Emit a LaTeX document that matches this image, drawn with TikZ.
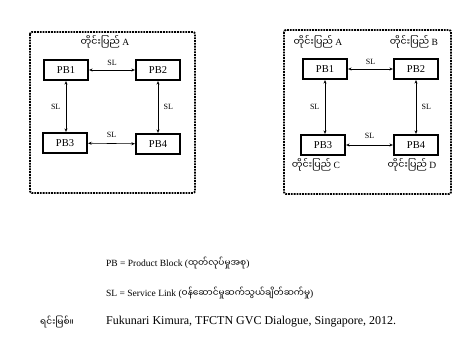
\documentclass[tikz,border=0pt]{standalone}
\usepackage{fontspec}
\setmainfont{Liberation Serif}
\newfontfamily\mya[Script=Myanmar]{Noto Sans Myanmar UI}
\usetikzlibrary{arrows.meta}
\begin{document}
\begin{tikzpicture}[x=1pt,y=-1pt,
  pb/.style={draw, line width=2.2pt, minimum width=44pt, minimum height=20pt, inner sep=0pt, font=\fontsize{10.5}{12}\selectfont},
  link/.style={{Stealth[length=3.5pt,width=3pt]}-{Stealth[length=3.5pt,width=3pt]}, line width=0.6pt},
  sl/.style={font=\fontsize{8}{9}\selectfont},
  ctry/.style={font=\mya\fontsize{9.5}{10}\selectfont, inner sep=0pt},
  region/.style={draw, densely dotted, line width=1.8pt, rounded corners=2pt},
  leg/.style={font=\fontsize{9.5}{12}\selectfont, anchor=west, inner sep=0pt}]
\useasboundingbox (0,0) rectangle (458,339);
% left region
\draw[region] (30,32) rectangle (195,193);
\node[ctry] (lA) at (105,42) {တိုင်းပြည် \rmfamily A};
\node[pb] (l1) at (66,70) {PB1};
\node[pb] (l2) at (158,70) {PB2};
\node[pb] (l3) at (65,143) {PB3};
\node[pb] (l4) at (158,144) {PB4};
\draw[link] (l1) -- node[sl,above=1pt]{SL} (l2);
\draw[link] (l3) -- node[sl,above=2pt]{SL} (l4);
\draw[link] (l1) -- node[sl,left=2pt]{SL} (l1|-l3.north);
\draw[link] (l2) -- node[sl,right=2pt]{SL} (l2|-l4.north);
% right region
\draw[region] (284,30) rectangle (451,194);
\node[ctry] (rA) at (318,42) {တိုင်းပြည် \rmfamily A};
\node[ctry] (rB) at (414,42) {တိုင်းပြည် \rmfamily B};
\node[pb] (r1) at (325,69) {PB1};
\node[pb] (r2) at (416,69) {PB2};
\node[pb] (r3) at (323,145) {PB3};
\node[pb] (r4) at (416,145) {PB4};
\node[ctry] (rC) at (316,165) {တိုင်းပြည် \rmfamily C};
\node[ctry] (rD) at (412,165) {တိုင်းပြည် \rmfamily D};
\draw[link] (r1) -- node[sl,above=1pt]{SL} (r2);
\draw[link] (r3) -- node[sl,above=3pt]{SL} (r4);
\draw[link] (r1) -- node[sl,left=2pt]{SL} (r1|-r3.north);
\draw[link] (r2) -- node[sl,right=2pt]{SL} (r2|-r4.north);
% legend
\node[leg] (lg1) at (106,263) {PB = Product Block ({\mya\fontsize{9}{10}\selectfont ထုတ်လုပ်မှုအစု})};
\node[leg] (lg2) at (106,293) {SL = Service Link ({\mya\fontsize{9}{10}\selectfont ဝန်ဆောင်မှုဆက်သွယ်ချိတ်ဆက်မှု})};
\node[leg] (src) at (40,322) {\mya\fontsize{9}{10}\selectfont ရင်းမြစ်။};
\node[leg, font=\fontsize{12}{14}\selectfont] (srct) at (106,322) {Fukunari Kimura, TFCTN GVC Dialogue, Singapore, 2012.};
\end{tikzpicture}
\end{document}
